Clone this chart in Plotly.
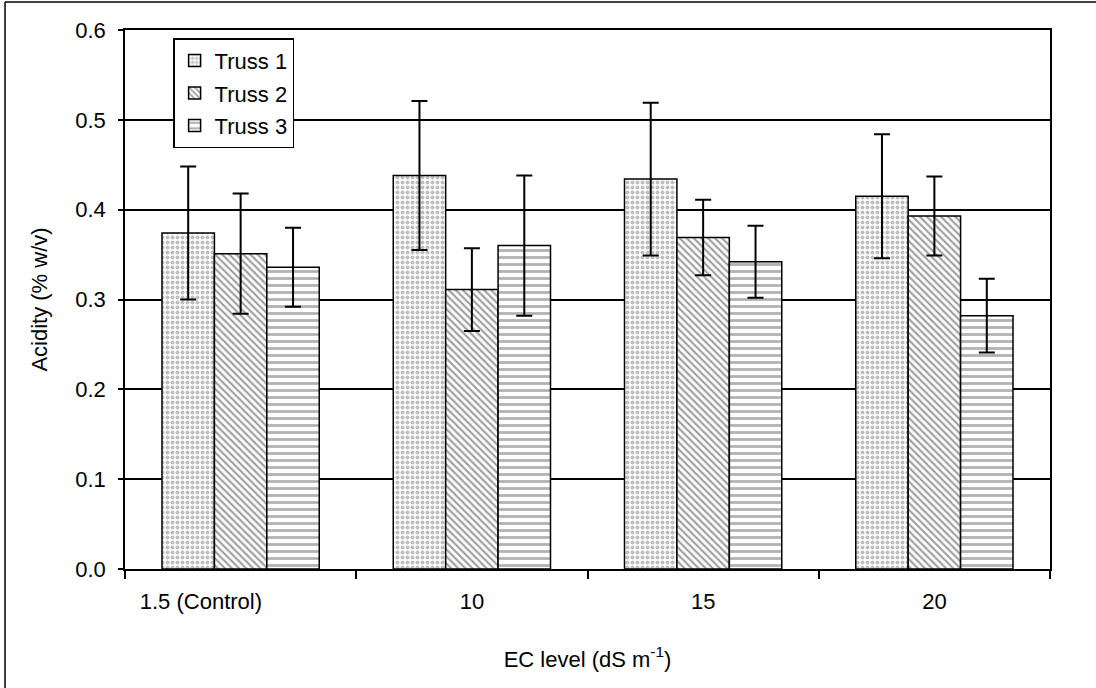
import plotly.graph_objects as go

# ---- data ----
categories = ["1.5 (Control)", "10", "15", "20"]
series_names = ["Truss 1", "Truss 2", "Truss 3"]
truss1 = [0.374, 0.438, 0.434, 0.415]
truss1_err = [0.074, 0.083, 0.085, 0.069]
truss2 = [0.351, 0.311, 0.369, 0.393]
truss2_err = [0.067, 0.046, 0.042, 0.044]
truss3 = [0.336, 0.360, 0.342, 0.282]
truss3_err = [0.044, 0.078, 0.040, 0.041]
y_ticks = [0.0, 0.1, 0.2, 0.3, 0.4, 0.5, 0.6]

FONT = "Liberation Sans, Arial, sans-serif"
FS = 22

patterns = [
    dict(shape=".", fgcolor="#808080", bgcolor="white", size=5, solidity=0.5),
    dict(shape="\\", fgcolor="#444444", bgcolor="white", size=5, solidity=0.45),
    dict(shape="-", fgcolor="#666666", bgcolor="white", size=7, solidity=0.4),
]

fig = go.Figure()
for i, (name, vals, errs, pat) in enumerate(zip(series_names, [truss1, truss2, truss3],
                                                [truss1_err, truss2_err, truss3_err], patterns)):
    fig.add_trace(go.Bar(
        name=name, x=categories, y=vals, legendgroup=f"g{i}",
        marker=dict(color="white", pattern=pat, line=dict(color="black", width=1.5)),
        error_y=dict(type="data", array=errs, visible=True, color="black",
                     thickness=2, width=8),
    ))

# first category label in the reference sits left of its group centre
ticktext = [categories[0] + "\u00a0" * 13] + categories[1:]

fig.update_layout(
    width=1096, height=688,
    margin=dict(l=125, r=46, t=30, b=119),
    paper_bgcolor="white", plot_bgcolor="white",
    font=dict(family=FONT, size=FS, color="black"),
    barmode="group", bargap=0.32, bargroupgap=0,
    legend=dict(
        x=0.052, y=0.985, xanchor="left", yanchor="top",
        bgcolor="white", bordercolor="black", borderwidth=1.5,
        font=dict(family=FONT, size=FS, color="black"),
        itemwidth=30, tracegroupgap=1,
    ),
    xaxis=dict(
        type="category", tickvals=categories, ticktext=ticktext,
        showline=True, linecolor="black", linewidth=1.5, mirror=True,
        ticks="outside", tickson="boundaries", ticklen=8, tickcolor="black", tickwidth=1.5,
        showgrid=False, ticklabelstandoff=12,
        title=dict(text="EC level (dS m<sup>-1</sup>)", standoff=38,
                   font=dict(family=FONT, size=FS)),
    ),
    yaxis=dict(
        range=[0, 0.6], tickvals=y_ticks, tickformat=".1f",
        showline=True, linecolor="black", linewidth=1.5, mirror=True,
        ticks="outside", ticklen=5, tickcolor="black", tickwidth=1.5,
        showgrid=True, gridcolor="black", gridwidth=1.5, zeroline=False,
        ticklabelstandoff=8,
        title=dict(text="Acidity (% w/v)", standoff=22, font=dict(family=FONT, size=FS)),
    ),
    shapes=[
        dict(type="line", xref="paper", yref="paper", x0=-0.1297, x1=-0.1297,
             y0=-0.3, y1=1.052, line=dict(color="black", width=1.5)),
        dict(type="line", xref="paper", yref="paper", x0=-0.1297, x1=1.1,
             y0=1.052, y1=1.052, line=dict(color="black", width=1.5)),
    ],
)

fig.write_html("out.html", config={"displayModeBar": False},
               post_script="document.body.style.margin='0';document.body.style.overflow='hidden';")
